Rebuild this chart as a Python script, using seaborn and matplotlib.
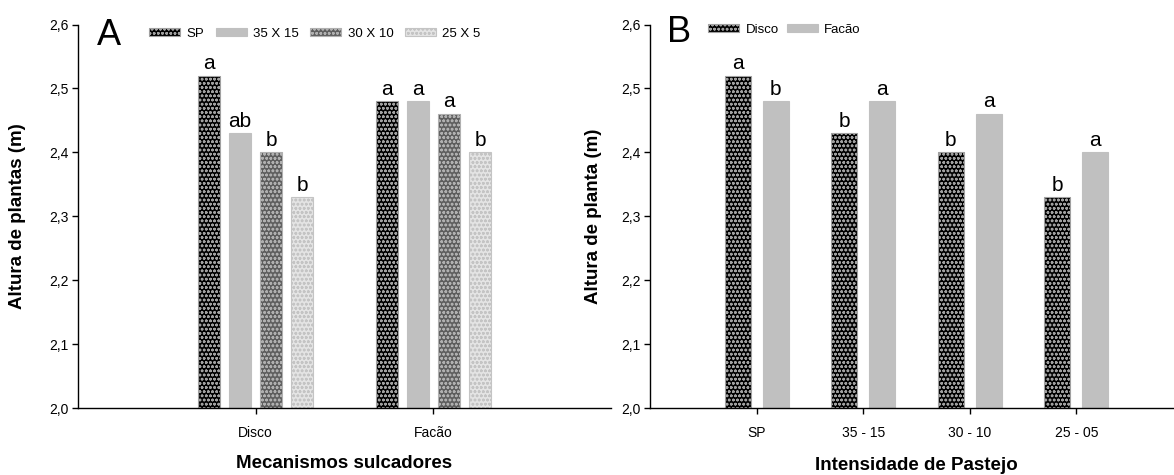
import matplotlib
matplotlib.use("Agg")
import matplotlib.pyplot as plt
import matplotlib.patches as mpatches
from matplotlib.ticker import FuncFormatter, MultipleLocator
import seaborn as sns
import pandas as pd

# ---------------- data ----------------
categories_A = ["Disco", "Facão"]
treatments_A = ["SP", "35 X 15", "30 X 10", "25 X 5"]
sp_vals = [2.52, 2.48]
t35x15_vals = [2.43, 2.48]
t30x10_vals = [2.40, 2.46]
t25x5_vals = [2.33, 2.40]
sp_letters = ["a", "a"]
t35x15_letters = ["ab", "a"]
t30x10_letters = ["b", "a"]
t25x5_letters = ["b", "b"]

categories_B = ["SP", "35 - 15", "30 - 10", "25 - 05"]
mechanisms_B = ["Disco", "Facão"]
disco_vals = [2.52, 2.43, 2.40, 2.33]
facao_vals = [2.48, 2.48, 2.46, 2.40]
disco_letters = ["a", "b", "b", "b"]
facao_letters = ["b", "a", "a", "a"]

y_ticks = [2.0, 2.1, 2.2, 2.3, 2.4, 2.5, 2.6]

# ---------------- style ----------------
sns.set_theme(style="ticks")
plt.rcParams["font.family"] = ["Liberation Sans", "DejaVu Sans"]
plt.rcParams["hatch.linewidth"] = 0.75
for k in ["text.color", "axes.labelcolor", "xtick.color", "ytick.color", "axes.edgecolor"]:
    plt.rcParams[k] = "black"

styles = {
    "SP": dict(face="#000000", edge="#a0a0a0", hatch="oooo"),
    "35 X 15": dict(face="#c0c0c0", edge="#c0c0c0", hatch=None),
    "30 X 10": dict(face="#5e5e5e", edge="#b0b0b0", hatch="oooo"),
    "25 X 5": dict(face="#e4e4e4", edge="#c4c4c4", hatch="oooo"),
    "Disco": dict(face="#000000", edge="#a0a0a0", hatch="oooo"),
    "Facão": dict(face="#c0c0c0", edge="#c0c0c0", hatch=None),
}

W, H = 1174, 475
fig = plt.figure(figsize=(W / 100, H / 100), dpi=100)

def px_axes(left, right, top, bottom):
    return fig.add_axes([left / W, 1 - bottom / H, (right - left) / W, (bottom - top) / H])

axA = px_axes(78, 611, 24.5, 408)
axB = px_axes(650, 1183, 24.5, 408)

def style_bars(ax, levels):
    for lvl, cont in zip(levels, ax.containers):
        st = styles[lvl]
        for bar in cont:
            bar.set_facecolor(st["face"])
            bar.set_edgecolor(st["edge"])
            bar.set_linewidth(0.8)
            if st["hatch"]:
                bar.set_hatch(st["hatch"])

def letters_on(ax, letters_by_level):
    for cont, lets in zip(ax.containers, letters_by_level):
        for bar, let in zip(cont, lets):
            ax.text(bar.get_x() + bar.get_width() / 2, bar.get_height() + 0.004, let,
                    ha="center", va="bottom", fontsize=15, color="black")

def format_axis(ax, xlim):
    ax.set_ylim(2.0, 2.6)
    ax.set_xlim(*xlim)
    ax.yaxis.set_major_locator(MultipleLocator(0.1))
    ax.set_yticks(y_ticks)
    ax.yaxis.set_major_formatter(FuncFormatter(lambda v, p: f"{v:.1f}".replace(".", ",")))
    ax.tick_params(axis="both", direction="out", length=4, width=1, colors="black",
                   labelsize=10, pad=3)
    ax.tick_params(axis="x", pad=9)
    for s in ["top", "right"]:
        ax.spines[s].set_visible(False)
    for s in ["left", "bottom"]:
        ax.spines[s].set_linewidth(1.0)
        ax.spines[s].set_color("black")

# ---------------- panel A ----------------
dfA = pd.DataFrame({
    "cat": categories_A * 4,
    "trt": sum([[t] * 2 for t in treatments_A], []),
    "val": sp_vals + t35x15_vals + t30x10_vals + t25x5_vals,
})
sns.barplot(data=dfA, x="cat", y="val", hue="trt", hue_order=treatments_A,
            order=categories_A, ax=axA, width=0.70, gap=0.29, legend=False,
            errorbar=None, saturation=1)
style_bars(axA, treatments_A)
letters_on(axA, [sp_letters, t35x15_letters, t30x10_letters, t25x5_letters])
format_axis(axA, (-1, 2))
axA.set_xlabel("Mecanismos sulcadores", fontsize=13.5, fontweight="bold")
axA.set_ylabel("Altura de plantas (m)", fontsize=13.5, fontweight="bold")
axA.xaxis.set_label_coords(0.5, -(463 - 408) / 383.5)
axA.xaxis.label.set_va("center")
axA.yaxis.set_label_coords((18 - 78) / 533, 0.5)
axA.yaxis.label.set_va("center")

handlesA = [mpatches.Patch(facecolor=styles[t]["face"], edgecolor=styles[t]["edge"],
                           hatch=styles[t]["hatch"], linewidth=0.8, label=t)
            for t in treatments_A]
fig.legend(handles=handlesA, loc="center left", bbox_to_anchor=(149 / W, 1 - 34 / H),
           ncol=4, frameon=False, fontsize=9.5, handlelength=2.35, handleheight=0.55,
           handletextpad=0.5, columnspacing=0.85, borderpad=0, borderaxespad=0)
fig.text(97 / W, 1 - 45 / H, "A", fontsize=26, va="baseline", ha="left", color="black")

# ---------------- panel B ----------------
dfB = pd.DataFrame({
    "cat": categories_B * 2,
    "mec": sum([[m] * 4 for m in mechanisms_B], []),
    "val": disco_vals + facao_vals,
})
sns.barplot(data=dfB, x="cat", y="val", hue="mec", hue_order=mechanisms_B,
            order=categories_B, ax=axB, width=0.714, gap=0.32, legend=False,
            errorbar=None, saturation=1)
style_bars(axB, mechanisms_B)
letters_on(axB, [disco_letters, facao_letters])
format_axis(axB, (-1, 4))
axB.set_xlabel("Intensidade de Pastejo", fontsize=13.5, fontweight="bold")
axB.set_ylabel("Altura de planta (m)", fontsize=13.5, fontweight="bold")
axB.xaxis.set_label_coords(0.5, -(465 - 408) / 383.5)
axB.xaxis.label.set_va("center")
axB.yaxis.set_label_coords((593 - 650) / 533, 0.5)
axB.yaxis.label.set_va("center")

handlesB = [mpatches.Patch(facecolor=styles[m]["face"], edgecolor=styles[m]["edge"],
                           hatch=styles[m]["hatch"], linewidth=0.8, label=m)
            for m in mechanisms_B]
fig.legend(handles=handlesB, loc="center left", bbox_to_anchor=(708 / W, 1 - 30 / H),
           ncol=2, frameon=False, fontsize=9.5, handlelength=2.35, handleheight=0.55,
           handletextpad=0.5, columnspacing=0.6, borderpad=0, borderaxespad=0)
fig.text(667 / W, 1 - 42 / H, "B", fontsize=26, va="baseline", ha="left", color="black")

fig.savefig("out.png", dpi=100)
